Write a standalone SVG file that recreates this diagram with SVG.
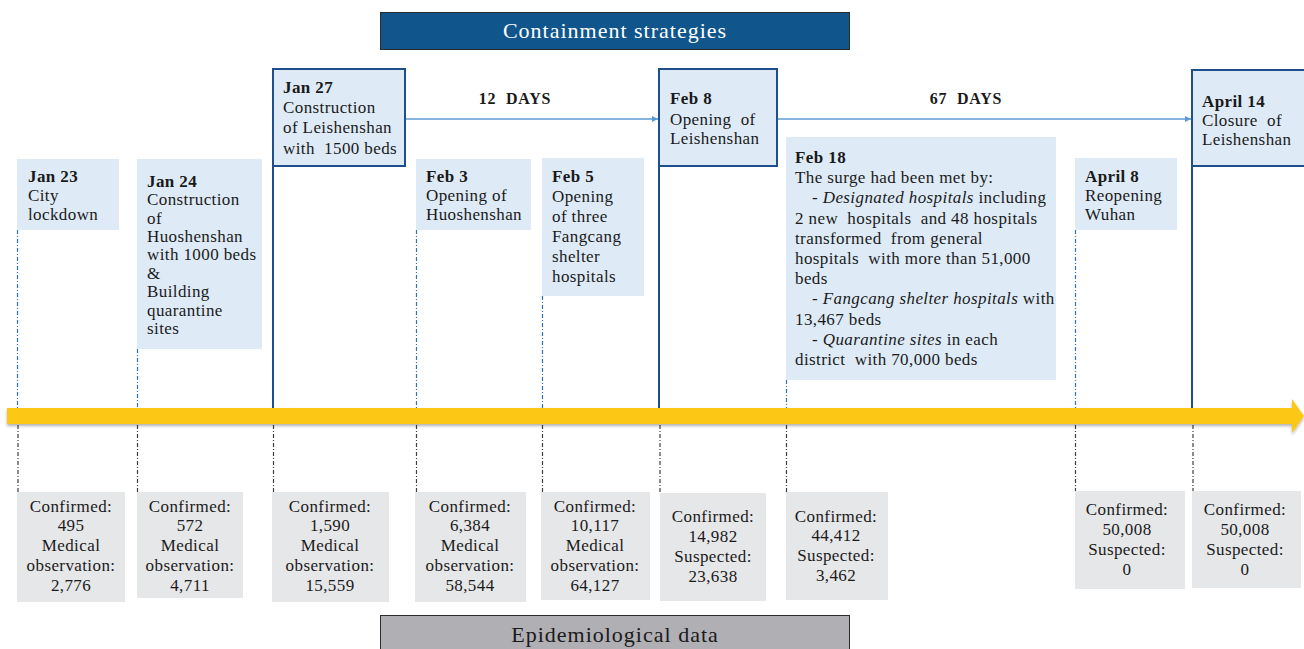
<svg xmlns="http://www.w3.org/2000/svg" width="1304" height="649" viewBox="0 0 1304 649">
  <defs>
    <style>
      text { font-family: "Liberation Serif", "DejaVu Serif", serif; font-size: 17px; fill: #1a1a1a; letter-spacing: 0.4px; white-space: pre; }
      .ev { fill: #deebf7; }
      .key { fill: #deebf7; stroke: #1f4e8c; stroke-width: 2; }
      .data { fill: #e6e7e9; }
      .b { font-weight: bold; }
      .i { font-style: italic; }
      .c { text-anchor: middle; }
      .head { font-size: 22px; letter-spacing: 1px; text-anchor: middle; }
      .up { stroke: #2e75b6; stroke-width: 1.2; stroke-dasharray: 4 2 1 2; fill: none; }
      .solid { stroke: #1f4e8c; stroke-width: 2; fill: none; }
      .down { stroke: #404040; stroke-width: 1.2; stroke-dasharray: 4 2 1 2; fill: none; }
      .span { stroke: #5b9bd5; stroke-width: 1.5; fill: none; marker-end: url(#tip); }
      .days { font-weight: bold; font-size: 16px; letter-spacing: 0.8px; text-anchor: middle; }
    </style>
    <marker id="tip" viewBox="0 0 10 10" refX="10" refY="5" markerWidth="6" markerHeight="6" markerUnits="userSpaceOnUse" orient="auto">
      <path d="M0,0 L10,5 L0,10 Z" fill="#5b9bd5"/>
    </marker>
    <filter id="shadow" x="-5%" y="-50%" width="110%" height="200%">
      <feDropShadow dx="0" dy="2" stdDeviation="1.5" flood-color="#000" flood-opacity="0.3"/>
    </filter>
  </defs>

  <!-- section headers -->
  <g id="header-containment">
    <rect x="380.5" y="12.5" width="469" height="37" fill="#10568c" stroke="#2b2b2b" stroke-width="1"/>
    <text x="615" y="38" class="head" style="fill:#ffffff">Containment strategies</text>
  </g>
  <g id="header-epidemiological">
    <rect x="380.5" y="615.5" width="469" height="40" fill="#b0afb3" stroke="#2b2b2b" stroke-width="1"/>
    <text x="615" y="642" class="head">Epidemiological data</text>
  </g>

  <!-- connectors -->
  <g id="connectors">
    <!-- ticks above the timeline -->
    <line class="up" x1="17.5" y1="230" x2="17.5" y2="408"/>
    <line class="up" x1="137.5" y1="349" x2="137.5" y2="408"/>
    <line class="up" x1="416.5" y1="230" x2="416.5" y2="408"/>
    <line class="up" x1="542.5" y1="296" x2="542.5" y2="408"/>
    <line class="up" x1="786.5" y1="380" x2="786.5" y2="408"/>
    <line class="up" x1="1075.5" y1="230" x2="1075.5" y2="408"/>
    <line class="solid" x1="273" y1="166" x2="273" y2="408"/>
    <line class="solid" x1="659" y1="166" x2="659" y2="408"/>
    <line class="solid" x1="1192" y1="166" x2="1192" y2="408"/>
    <!-- ticks below the timeline -->
    <line class="down" x1="18" y1="425" x2="18" y2="492"/>
    <line class="down" x1="137.5" y1="425" x2="137.5" y2="492"/>
    <line class="down" x1="273.5" y1="425" x2="273.5" y2="492"/>
    <line class="down" x1="416.5" y1="425" x2="416.5" y2="492"/>
    <line class="down" x1="542.5" y1="425" x2="542.5" y2="492"/>
    <line class="down" x1="660" y1="425" x2="660" y2="493"/>
    <line class="down" x1="786.5" y1="425" x2="786.5" y2="492"/>
    <line class="down" x1="1075.5" y1="425" x2="1075.5" y2="491"/>
    <line class="down" x1="1193" y1="425" x2="1193" y2="491"/>
    <!-- day spans -->
    <line class="span" x1="405" y1="119" x2="658" y2="119"/>
    <text x="515" y="104" class="days">12  DAYS</text>
    <line class="span" x1="777" y1="119" x2="1191" y2="119"/>
    <text x="966" y="104" class="days">67  DAYS</text>
  </g>

  <!-- timeline arrow -->
  <g id="timeline">
    <path d="M7,408 L1292,408 L1292,399 L1304,416 L1292,433 L1292,424 L7,424 Z" fill="#fdc714" filter="url(#shadow)"/>
  </g>

  <!-- events -->
  <g id="jan23">
    <rect class="ev" x="17" y="159" width="102" height="71"/>
    <text x="28" y="182"><tspan class="b">Jan 23</tspan><tspan x="28" y="201">City</tspan><tspan x="28" y="220">lockdown</tspan></text>
  </g>
  <g id="jan24">
    <rect class="ev" x="137" y="159" width="125" height="190"/>
    <text x="147" y="187"><tspan class="b">Jan 24</tspan><tspan x="147" y="205">Construction</tspan><tspan x="147" y="224">of</tspan><tspan x="147" y="242">Huoshenshan</tspan><tspan x="147" y="260">with 1000 beds</tspan><tspan x="147" y="279">&amp;</tspan><tspan x="147" y="297">Building</tspan><tspan x="147" y="316">quarantine</tspan><tspan x="147" y="334">sites</tspan></text>
  </g>
  <g id="jan27">
    <rect class="key" x="273" y="69" width="132" height="97"/>
    <text x="283" y="93"><tspan class="b">Jan 27</tspan><tspan x="283" y="113">Construction</tspan><tspan x="283" y="133">of Leishenshan</tspan><tspan x="283" y="154">with  1500 beds</tspan></text>
  </g>
  <g id="feb3">
    <rect class="ev" x="416" y="159" width="115" height="71"/>
    <text x="426" y="182"><tspan class="b">Feb 3</tspan><tspan x="426" y="201">Opening of</tspan><tspan x="426" y="220">Huoshenshan</tspan></text>
  </g>
  <g id="feb5">
    <rect class="ev" x="542" y="158" width="102" height="138"/>
    <text x="552" y="182"><tspan class="b">Feb 5</tspan><tspan x="552" y="202">Opening</tspan><tspan x="552" y="222">of three</tspan><tspan x="552" y="242">Fangcang</tspan><tspan x="552" y="262">shelter</tspan><tspan x="552" y="282">hospitals</tspan></text>
  </g>
  <g id="feb8">
    <rect class="key" x="659" y="69" width="118" height="97"/>
    <text x="670" y="104"><tspan class="b">Feb 8</tspan><tspan x="670" y="125">Opening  of</tspan><tspan x="670" y="144">Leishenshan</tspan></text>
  </g>
  <g id="feb18">
    <rect class="ev" x="786" y="137" width="270" height="243"/>
    <text x="795" y="163"><tspan class="b">Feb 18</tspan><tspan x="795" y="183">The surge had been met by:</tspan><tspan x="812" y="203">- <tspan class="i">Designated hospitals</tspan> including</tspan><tspan x="795" y="224">2 new  hospitals  and 48 hospitals</tspan><tspan x="795" y="244">transformed  from general</tspan><tspan x="795" y="264">hospitals  with more than 51,000</tspan><tspan x="795" y="284">beds</tspan><tspan x="812" y="304">- <tspan class="i">Fangcang shelter hospitals</tspan> with</tspan><tspan x="795" y="325">13,467 beds</tspan><tspan x="812" y="345">- <tspan class="i">Quarantine sites</tspan> in each</tspan><tspan x="795" y="365">district  with 70,000 beds</tspan></text>
  </g>
  <g id="apr8">
    <rect class="ev" x="1075" y="158" width="102" height="72"/>
    <text x="1085" y="182"><tspan class="b">April 8</tspan><tspan x="1085" y="201">Reopening</tspan><tspan x="1085" y="220">Wuhan</tspan></text>
  </g>
  <g id="apr14">
    <rect class="key" x="1192" y="70" width="114" height="96"/>
    <text x="1202" y="107"><tspan class="b">April 14</tspan><tspan x="1202" y="126">Closure  of</tspan><tspan x="1202" y="145">Leishenshan</tspan></text>
  </g>

  <!-- epidemiological figures -->
  <g id="data-jan23">
    <rect class="data" x="17" y="492" width="108" height="110"/>
    <text x="71" y="512" class="c">Confirmed:<tspan x="71" y="531">495</tspan><tspan x="71" y="551">Medical</tspan><tspan x="71" y="571">observation:</tspan><tspan x="71" y="591">2,776</tspan></text>
  </g>
  <g id="data-jan24">
    <rect class="data" x="137" y="492" width="106" height="106"/>
    <text x="190" y="512" class="c">Confirmed:<tspan x="190" y="531">572</tspan><tspan x="190" y="551">Medical</tspan><tspan x="190" y="571">observation:</tspan><tspan x="190" y="591">4,711</tspan></text>
  </g>
  <g id="data-jan27">
    <rect class="data" x="272" y="492" width="117" height="110"/>
    <text x="330" y="512" class="c">Confirmed:<tspan x="330" y="531">1,590</tspan><tspan x="330" y="551">Medical</tspan><tspan x="330" y="571">observation:</tspan><tspan x="330" y="591">15,559</tspan></text>
  </g>
  <g id="data-feb3">
    <rect class="data" x="415" y="492" width="111" height="110"/>
    <text x="470" y="512" class="c">Confirmed:<tspan x="470" y="531">6,384</tspan><tspan x="470" y="551">Medical</tspan><tspan x="470" y="571">observation:</tspan><tspan x="470" y="591">58,544</tspan></text>
  </g>
  <g id="data-feb5">
    <rect class="data" x="541" y="492" width="109" height="108"/>
    <text x="595" y="512" class="c">Confirmed:<tspan x="595" y="531">10,117</tspan><tspan x="595" y="551">Medical</tspan><tspan x="595" y="571">observation:</tspan><tspan x="595" y="591">64,127</tspan></text>
  </g>
  <g id="data-feb8">
    <rect class="data" x="660" y="493" width="106" height="108"/>
    <text x="713" y="522" class="c">Confirmed:<tspan x="713" y="542">14,982</tspan><tspan x="713" y="562">Suspected:</tspan><tspan x="713" y="582">23,638</tspan></text>
  </g>
  <g id="data-feb18">
    <rect class="data" x="786" y="492" width="102" height="108"/>
    <text x="836" y="522" class="c">Confirmed:<tspan x="836" y="541">44,412</tspan><tspan x="836" y="561">Suspected:</tspan><tspan x="836" y="581">3,462</tspan></text>
  </g>
  <g id="data-apr8">
    <rect class="data" x="1075" y="491" width="110" height="98"/>
    <text x="1127" y="515" class="c">Confirmed:<tspan x="1127" y="535">50,008</tspan><tspan x="1127" y="555">Suspected:</tspan><tspan x="1127" y="575">0</tspan></text>
  </g>
  <g id="data-apr14">
    <rect class="data" x="1192" y="491" width="109" height="97"/>
    <text x="1245" y="515" class="c">Confirmed:<tspan x="1245" y="535">50,008</tspan><tspan x="1245" y="555">Suspected:</tspan><tspan x="1245" y="575">0</tspan></text>
  </g>
</svg>
